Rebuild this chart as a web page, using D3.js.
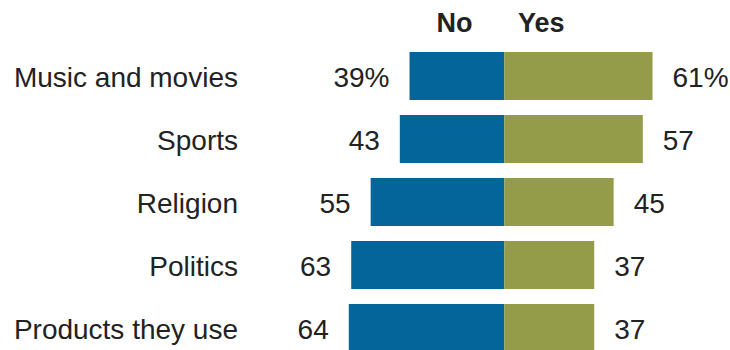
<!DOCTYPE html>
<html>
<head>
<meta charset="utf-8">
<script src="https://cdn.jsdelivr.net/npm/d3@7"></script>
<style>
  html, body { margin: 0; padding: 0; background: #fff; }
  svg { display: block; }
  text { font-family: "Liberation Sans", Arial, sans-serif; fill: #222; }
</style>
</head>
<body>
<svg id="chart" width="730" height="350"></svg>
<script>
// Share answering "No" / "Yes" for each topic
const categories = ["Music and movies", "Sports", "Religion", "Politics", "Products they use"];
const noValues = [39, 43, 55, 63, 64];
const yesValues = [61, 57, 45, 37, 37];
const seriesNames = ["No", "Yes"];

const colors = { No: "#04659a", Yes: "#949c4a" };

const svg = d3.select("#chart");
const center = 504.3;

// Diverging horizontal scale: negative to the left for "No", positive to the right for "Yes"
const x = d3.scaleLinear().domain([-100, 100]).range([center - 243, center + 243]);

const y = d3.scaleBand()
  .domain(categories)
  .range([52, 352])
  .paddingInner(0.238)
  .paddingOuter(0);

const rows = categories.map((c, i) => ({ cat: c, no: noValues[i], yes: yesValues[i], first: i === 0 }));

// Bars
svg.append("g").selectAll("rect.no")
  .data(rows).join("rect")
  .attr("class", "no")
  .attr("x", d => x(-d.no))
  .attr("y", d => y(d.cat))
  .attr("width", d => x(0) - x(-d.no))
  .attr("height", y.bandwidth())
  .attr("fill", colors.No);

svg.append("g").selectAll("rect.yes")
  .data(rows).join("rect")
  .attr("class", "yes")
  .attr("x", x(0))
  .attr("y", d => y(d.cat))
  .attr("width", d => x(d.yes) - x(0))
  .attr("height", y.bandwidth())
  .attr("fill", colors.Yes);

const fs = 28;
const mid = d => y(d.cat) + y.bandwidth() / 2;

// Category labels
svg.append("g").selectAll("text")
  .data(rows).join("text")
  .attr("x", 238)
  .attr("y", mid)
  .attr("dy", "0.39em")
  .attr("text-anchor", "end")
  .style("font-size", fs + "px")
  .text(d => d.cat);

// Value labels
svg.append("g").selectAll("text")
  .data(rows).join("text")
  .attr("x", d => x(-d.no) - 20)
  .attr("y", mid)
  .attr("dy", "0.39em")
  .attr("text-anchor", "end")
  .style("font-size", fs + "px")
  .text(d => d.no + (d.first ? "%" : ""));

svg.append("g").selectAll("text")
  .data(rows).join("text")
  .attr("x", d => x(d.yes) + 20)
  .attr("y", mid)
  .attr("dy", "0.39em")
  .attr("text-anchor", "start")
  .style("font-size", fs + "px")
  .text(d => d.yes + (d.first ? "%" : ""));

// Column headers
svg.append("text")
  .attr("x", x(-20.5))
  .attr("y", 31.5)
  .attr("text-anchor", "middle")
  .style("font-size", "27px")
  .style("font-weight", "bold")
  .text(seriesNames[0]);

svg.append("text")
  .attr("x", x(15.2))
  .attr("y", 31.5)
  .attr("text-anchor", "middle")
  .style("font-size", "27px")
  .style("font-weight", "bold")
  .text(seriesNames[1]);
</script>
</body>
</html>
